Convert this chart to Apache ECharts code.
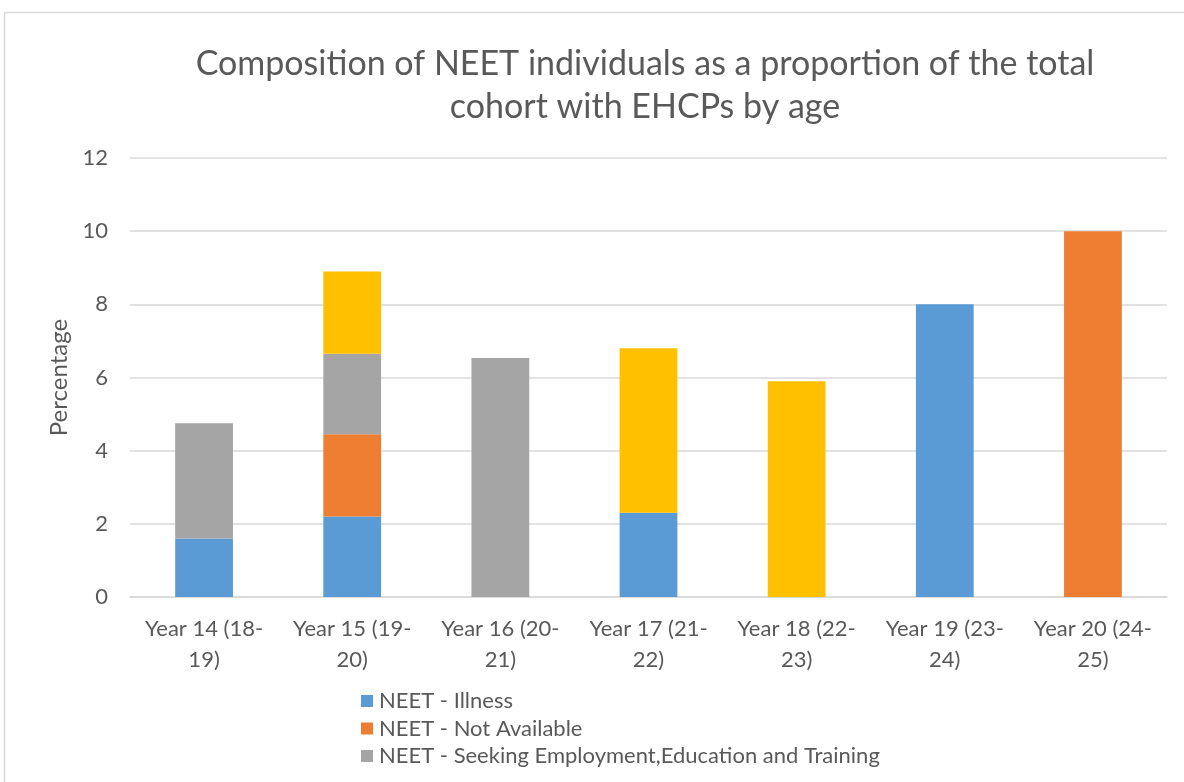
<!DOCTYPE html>
<html>
<head>
<meta charset="utf-8">
<script src="https://cdn.jsdelivr.net/npm/echarts@6/dist/echarts.min.js"></script>
<style>
  html, body { margin: 0; padding: 0; background: #fff; }
  #chart { width: 1184px; height: 782px; }
</style>
</head>
<body>
<div id="chart"></div>
<script>
// Age groups (school year and age range)
const categories = ['Year 14 (18-19)', 'Year 15 (19-20)', 'Year 16 (20-21)', 'Year 17 (21-22)',
                    'Year 18 (22-23)', 'Year 19 (23-24)', 'Year 20 (24-25)'];
// Percentage of the EHCP cohort in each NEET group
const illness     = [1.6, 2.2, 0, 2.3, 0, 8, 0];
const notAvail    = [0, 2.25, 0, 0, 0, 0, 10];
const seeking     = [3.15, 2.2, 6.53, 0, 0, 0, 0];
const other       = [0, 2.25, 0, 4.5, 5.9, 0, 0];
const yTicks      = [0, 2, 4, 6, 8, 10, 12];

const names = ['NEET - Illness', 'NEET - Not Available',
               'NEET - Seeking Employment,Education and Training', 'NEET - Other'];
const colors = ['#5b9bd5', '#ed7d31', '#a5a5a5', '#ffc000'];
const font = 'Lato, "Open Sans", sans-serif';
const txt = '#595959';

const chart = echarts.init(document.getElementById('chart'), null, { renderer: 'canvas' });
const series = [illness, notAvail, seeking, other].map((d, i) => ({
  name: names[i],
  type: 'bar',
  stack: 'neet',
  barWidth: '39%',
  data: d.map(v => v === 0 ? null : v),
  itemStyle: { color: colors[i] }
}));

chart.setOption({
  animation: false,
  backgroundColor: '#fff',
  graphic: [{
    type: 'rect',
    shape: { x: 4.5, y: 12.5, width: 1190, height: 800 },
    style: { fill: null, stroke: '#d9d9d9', lineWidth: 1.5 },
    silent: true
  }],
  title: {
    text: 'Composition of NEET individuals as a proportion of the total\ncohort with EHCPs by age',
    left: 640, top: 38, textAlign: 'center',
    textStyle: { fontFamily: font, fontSize: 34, fontWeight: 'normal', color: txt, lineHeight: 43 }
  },
  legend: {
    data: names.slice(0, 3),
    orient: 'vertical',
    left: 356, top: 685, height: 200,
    itemWidth: 12, itemHeight: 12, itemGap: 5.5,
    icon: 'rect',
    textStyle: { fontFamily: font, fontSize: 22, color: txt, padding: [0, 0, 0, 1] }
  },
  grid: { left: 130, right: 17, top: 158, bottom: 185 },
  xAxis: {
    type: 'category',
    data: categories,
    axisLine: { lineStyle: { color: '#d9d9d9', width: 1.5 } },
    axisTick: { show: false },
    axisLabel: {
      fontFamily: font, fontSize: 22, color: txt, margin: 16, lineHeight: 31, interval: 0,
      formatter: s => s.replace(/-(\d+\))$/, '-\n$1')
    }
  },
  yAxis: {
    type: 'value',
    min: yTicks[0], max: yTicks[yTicks.length - 1], interval: 2,
    name: 'Percentage',
    nameLocation: 'middle', nameGap: 58, nameRotate: 90,
    nameTextStyle: { fontFamily: font, fontSize: 24, color: txt },
    axisLine: { show: false },
    axisTick: { show: false },
    splitLine: { lineStyle: { color: '#d9d9d9', width: 1.5 } },
    axisLabel: { fontFamily: font, fontSize: 22, color: txt, margin: 22 }
  },
  series: series
});
</script>
</body>
</html>
